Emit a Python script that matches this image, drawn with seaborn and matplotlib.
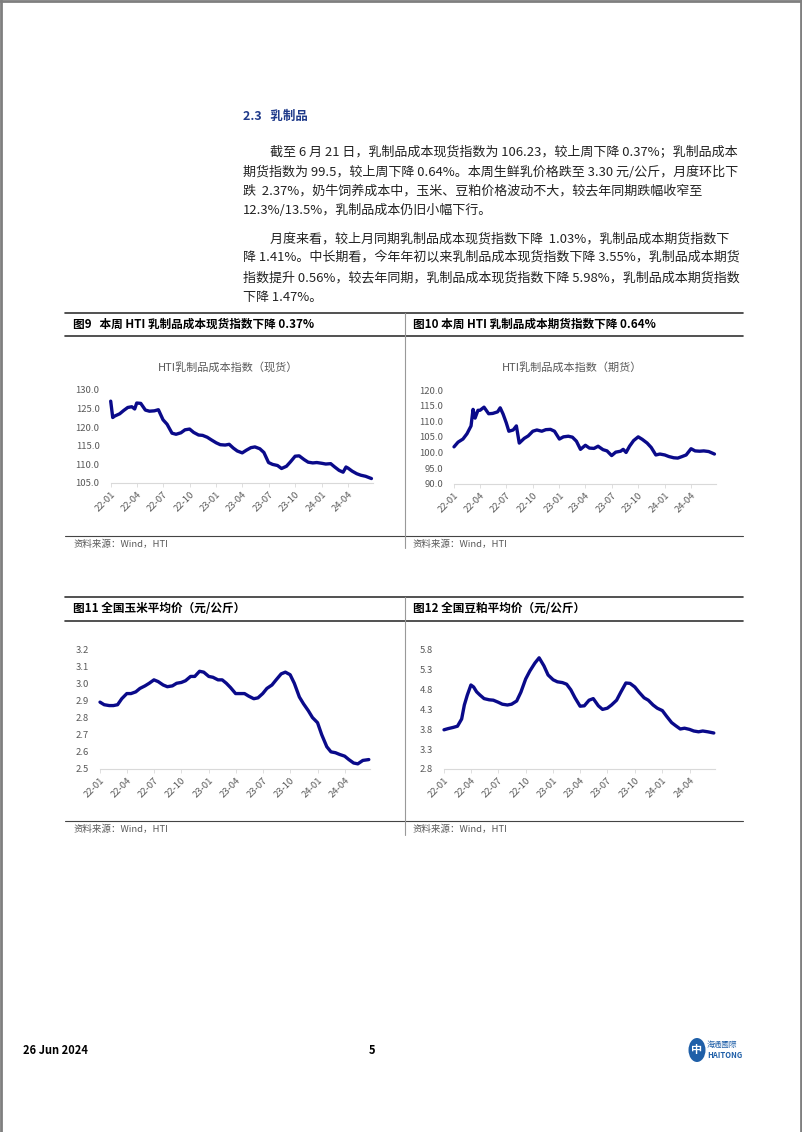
import matplotlib
matplotlib.use("Agg")
import matplotlib.pyplot as plt
import matplotlib.dates as mdates
from matplotlib.lines import Line2D
from matplotlib.patches import Circle
import numpy as np
import pandas as pd
import seaborn as sns

sns.set_theme(style="white")
plt.rcParams['font.family'] = ['Noto Sans CJK SC', 'DejaVu Sans']

W, H = 802, 1132

# ---- data ----
spot_dates = ["2022-01-01", "2022-01-08", "2022-01-15", "2022-02-01", "2022-02-15", "2022-03-01",
              "2022-03-15", "2022-03-25", "2022-04-01", "2022-04-15", "2022-05-01", "2022-05-15",
              "2022-06-01", "2022-06-15", "2022-07-01", "2022-07-15", "2022-08-01", "2022-08-15",
              "2022-09-01", "2022-09-15", "2022-10-01", "2022-10-15", "2022-11-01", "2022-11-15",
              "2022-12-01", "2022-12-15", "2023-01-01", "2023-01-15", "2023-02-01", "2023-02-15",
              "2023-03-01", "2023-03-15", "2023-04-01", "2023-04-15", "2023-05-01", "2023-05-15",
              "2023-06-01", "2023-06-15", "2023-07-01", "2023-07-15", "2023-08-01", "2023-08-15",
              "2023-09-01", "2023-09-15", "2023-10-01", "2023-10-15", "2023-11-01", "2023-11-15",
              "2023-12-01", "2023-12-15", "2024-01-01", "2024-01-15", "2024-02-01", "2024-02-15",
              "2024-03-01", "2024-03-15", "2024-03-25", "2024-04-01", "2024-04-15", "2024-05-01",
              "2024-05-15", "2024-06-01", "2024-06-21"]
spot_vals = [127.0, 122.6, 123.0, 123.6, 124.5, 125.3,
             125.5, 124.9, 126.5, 126.4, 124.6, 124.3,
             124.4, 124.7, 122.0, 120.8, 118.4, 118.1,
             118.5, 119.3, 119.5, 118.6, 117.9, 117.8,
             117.3, 116.6, 115.8, 115.3, 115.2, 115.4,
             114.4, 113.6, 113.1, 113.8, 114.5, 114.7,
             114.2, 113.2, 110.5, 110.0, 109.7, 108.9,
             109.5, 110.7, 112.2, 112.3, 111.3, 110.6,
             110.4, 110.5, 110.3, 110.1, 110.2, 109.3,
             108.4, 107.9, 109.3, 109.0, 108.2, 107.5,
             107.1, 106.8, 106.2]

fut_dates = ["2022-01-01", "2022-01-15", "2022-02-01", "2022-02-15", "2022-03-01", "2022-03-08",
             "2022-03-15", "2022-03-25", "2022-04-01", "2022-04-15", "2022-05-01", "2022-05-15",
             "2022-06-01", "2022-06-10", "2022-06-20", "2022-07-01", "2022-07-10", "2022-07-25",
             "2022-08-05", "2022-08-15", "2022-09-01", "2022-09-15", "2022-10-01", "2022-10-15",
             "2022-11-01", "2022-11-15", "2022-12-01", "2022-12-15", "2023-01-01", "2023-01-15",
             "2023-02-01", "2023-02-15", "2023-03-01", "2023-03-15", "2023-04-01", "2023-04-15",
             "2023-05-01", "2023-05-15", "2023-06-01", "2023-06-15", "2023-07-01", "2023-07-15",
             "2023-08-01", "2023-08-10", "2023-08-20", "2023-09-01", "2023-09-15", "2023-10-01",
             "2023-10-15", "2023-11-01", "2023-11-15", "2023-12-01", "2023-12-15", "2024-01-01",
             "2024-01-15", "2024-02-01", "2024-02-15", "2024-03-01", "2024-03-15", "2024-04-01",
             "2024-04-15", "2024-05-01", "2024-05-15", "2024-06-01", "2024-06-21"]
fut_vals = [101.8, 103.3, 104.3, 106.0, 108.5, 113.8,
            111.0, 113.5, 113.5, 114.5, 112.4, 112.5,
            113.0, 114.3, 112.3, 109.5, 106.8, 107.2,
            108.5, 103.0, 104.5, 105.3, 106.8, 107.2,
            106.8, 107.3, 107.4, 106.8, 104.3, 105.0,
            105.2, 104.9, 103.6, 101.0, 102.3, 101.4,
            101.3, 102.0, 100.9, 100.5, 99.0, 100.1,
            100.4, 101.0, 100.0, 102.0, 103.8, 105.0,
            104.2, 103.0, 101.6, 99.2, 99.5, 99.2,
            98.7, 98.3, 98.2, 98.7, 99.2, 101.2,
            100.5, 100.4, 100.5, 100.3, 99.5]

corn_dates = ["2022-01-01", "2022-01-15", "2022-02-01", "2022-02-15", "2022-03-01", "2022-03-15",
              "2022-04-01", "2022-04-15", "2022-05-01", "2022-05-15", "2022-06-01", "2022-06-15",
              "2022-07-01", "2022-07-15", "2022-08-01", "2022-08-15", "2022-09-01", "2022-09-15",
              "2022-10-01", "2022-10-15", "2022-11-01", "2022-11-15", "2022-12-01", "2022-12-15",
              "2023-01-01", "2023-01-15", "2023-02-01", "2023-02-15", "2023-03-01", "2023-03-15",
              "2023-04-01", "2023-04-15", "2023-05-01", "2023-05-15", "2023-06-01", "2023-06-15",
              "2023-07-01", "2023-07-15", "2023-08-01", "2023-08-15", "2023-09-01", "2023-09-15",
              "2023-10-01", "2023-10-15", "2023-11-01", "2023-11-15", "2023-12-01", "2023-12-15",
              "2024-01-01", "2024-01-15", "2024-02-01", "2024-02-15", "2024-03-01", "2024-03-15",
              "2024-04-01", "2024-04-15", "2024-05-01", "2024-05-15", "2024-06-01", "2024-06-21"]
corn_vals = [2.89, 2.875, 2.87, 2.87, 2.875, 2.91,
             2.94, 2.94, 2.95, 2.97, 2.985, 3.0,
             3.02, 3.01, 2.99, 2.98, 2.985, 3.0,
             3.005, 3.015, 3.04, 3.04, 3.07, 3.065,
             3.04, 3.035, 3.02, 3.02, 3.0, 2.975,
             2.94, 2.94, 2.94, 2.925, 2.91, 2.915,
             2.94, 2.97, 2.99, 3.02, 3.055, 3.065,
             3.05, 3.0, 2.92, 2.88, 2.84, 2.80,
             2.77, 2.70, 2.63, 2.60, 2.595, 2.585,
             2.575, 2.555, 2.535, 2.53, 2.55, 2.555]

soy_dates = ["2022-01-01", "2022-01-15", "2022-02-01", "2022-02-15", "2022-03-01", "2022-03-10",
             "2022-03-20", "2022-04-01", "2022-04-10", "2022-04-20", "2022-05-01", "2022-05-15",
             "2022-06-01", "2022-06-15", "2022-07-01", "2022-07-15", "2022-08-01", "2022-08-15",
             "2022-09-01", "2022-09-15", "2022-10-01", "2022-10-15", "2022-11-01", "2022-11-15",
             "2022-12-01", "2022-12-15", "2023-01-01", "2023-01-15", "2023-02-01", "2023-02-15",
             "2023-03-01", "2023-03-15", "2023-04-01", "2023-04-15", "2023-05-01", "2023-05-15",
             "2023-06-01", "2023-06-15", "2023-07-01", "2023-07-15", "2023-08-01", "2023-08-15",
             "2023-09-01", "2023-09-15", "2023-10-01", "2023-10-15", "2023-11-01", "2023-11-15",
             "2023-12-01", "2023-12-15", "2024-01-01", "2024-01-15", "2024-02-01", "2024-02-15",
             "2024-03-01", "2024-03-15", "2024-04-01", "2024-04-15", "2024-05-01", "2024-05-15",
             "2024-06-01", "2024-06-21"]
soy_vals = [3.78, 3.81, 3.84, 3.87, 4.05, 4.40,
            4.65, 4.90, 4.85, 4.73, 4.65, 4.56,
            4.53, 4.52, 4.47, 4.42, 4.40, 4.42,
            4.50, 4.72, 5.05, 5.25, 5.45, 5.58,
            5.38, 5.15, 5.03, 4.98, 4.96, 4.92,
            4.78, 4.58, 4.37, 4.38, 4.52, 4.56,
            4.38, 4.29, 4.32, 4.40, 4.52, 4.72,
            4.95, 4.94, 4.85, 4.72, 4.58, 4.52,
            4.40, 4.32, 4.26, 4.12, 3.96, 3.88,
            3.80, 3.82, 3.79, 3.75, 3.73, 3.75,
            3.73, 3.70]

quarter_ticks = ["2022-01-01", "2022-04-01", "2022-07-01", "2022-10-01", "2023-01-01",
                 "2023-04-01", "2023-07-01", "2023-10-01", "2024-01-01", "2024-04-01"]

heading = "2.3   乳制品"
para_lines = [
    "截至 6 月 21 日，乳制品成本现货指数为 106.23，较上周下降 0.37%；乳制品成本",
    "期货指数为 99.5，较上周下降 0.64%。本周生鲜乳价格跌至 3.30 元/公斤，月度环比下",
    "跌  2.37%，奶牛饲养成本中，玉米、豆粕价格波动不大，较去年同期跌幅收窄至",
    "12.3%/13.5%，乳制品成本仍旧小幅下行。",
    "月度来看，较上月同期乳制品成本现货指数下降  1.03%，乳制品成本期货指数下",
    "降 1.41%。中长期看，今年年初以来乳制品成本现货指数下降 3.55%，乳制品成本期货",
    "指数提升 0.56%，较去年同期，乳制品成本现货指数下降 5.98%，乳制品成本期货指数",
    "下降 1.47%。",
]
para_y = [152, 172, 191, 210, 239, 258, 278, 297]
para_x = [270, 243, 243, 243, 270, 243, 243, 243]

fig_titles = ["图9   本周 HTI 乳制品成本现货指数下降 0.37%", "图10 本周 HTI 乳制品成本期货指数下降 0.64%",
              "图11 全国玉米平均价（元/公斤）", "图12 全国豆粕平均价（元/公斤）"]
chart_titles = ["HTI乳制品成本指数（现货）", "HTI乳制品成本指数（期货）", None, None]
source = "资料来源：Wind，HTI"

LINE = "#0a0a8a"
GRAY = "#595959"

fig = plt.figure(figsize=(W / 100, H / 100), dpi=100)
fig.patch.set_facecolor("white")


def hline(x1, x2, y, color="#333333", lw=1.0):
    fig.add_artist(Line2D([x1 / W, x2 / W], [1 - y / H, 1 - y / H], transform=fig.transFigure,
                          color=color, lw=lw))


def vline(x, y1, y2, color="#999999", lw=0.8):
    fig.add_artist(Line2D([x / W, x / W], [1 - y1 / H, 1 - y2 / H], transform=fig.transFigure,
                          color=color, lw=lw))


def txt(x, y, s, **kw):
    fig.text(x / W, 1 - y / H, s, va="center", **kw)


# page border
hline(0, W, 1, color="#7f7f7f", lw=2)
vline(1, 0, H, color="#7f7f7f", lw=2)
vline(800.5, 0, H, color="#7f7f7f", lw=2)

# heading and paragraphs
txt(243, 116, heading, fontsize=9, fontweight="bold", color="#1f3a8a")
for s, x, y in zip(para_lines, para_x, para_y):
    txt(x, y, s, fontsize=9.4, color="#222222")

# table frames
for top, tline, sline, send in [(313, 336, 536, 548), (597, 621, 821, 835)]:
    hline(65, 743, top, lw=1.2)
    hline(65, 743, tline, lw=1.2)
    hline(65, 743, sline, color="#444444", lw=0.8)
    vline(405, top, send)
    txt(73, sline + 8, source, fontsize=6.8, color=GRAY)
    txt(413, sline + 8, source, fontsize=6.8, color=GRAY)

txt(73, 324.5, fig_titles[0], fontsize=8.4, fontweight="bold", color="black")
txt(413, 324.5, fig_titles[1], fontsize=8.4, fontweight="bold", color="black")
txt(73, 609, fig_titles[2], fontsize=8.4, fontweight="bold", color="black")
txt(413, 609, fig_titles[3], fontsize=8.4, fontweight="bold", color="black")

txt(228, 367, chart_titles[0], fontsize=8, color=GRAY, ha="center")
txt(572, 367, chart_titles[1], fontsize=8, color=GRAY, ha="center")

# charts: (dates, values, left, right, top, bottom, ylim, yticks)
panels = [
    (spot_dates, spot_vals, 110.7, 372.6, 390, 483, (105, 130), np.arange(105, 131, 5)),
    (fut_dates, fut_vals, 454, 715.6, 390, 483.7, (90, 120), np.arange(90, 121, 5)),
    (corn_dates, corn_vals, 100, 370, 649, 769, (2.5, 3.2), np.arange(2.5, 3.25, 0.1)),
    (soy_dates, soy_vals, 444, 715, 649, 769, (2.8, 5.8), np.arange(2.8, 5.85, 0.5)),
]
xmin = pd.Timestamp("2022-01-01")
xmax = pd.Timestamp("2024-06-25")

for dates, vals, l, r, t, b, ylim, yt in panels:
    ax = fig.add_axes([l / W, 1 - b / H, (r - l) / W, (b - t) / H])
    df = pd.DataFrame({"date": pd.to_datetime(dates), "value": vals})
    sns.lineplot(data=df, x="date", y="value", ax=ax, color=LINE, lw=2.4, clip_on=False)
    ax.set_xlim(xmin, xmax)
    ax.set_ylim(*ylim)
    ax.set_yticks(yt)
    ax.set_yticklabels([f"{v:.1f}" for v in yt])
    ax.set_xticks(pd.to_datetime(quarter_ticks))
    ax.xaxis.set_major_formatter(mdates.DateFormatter("%y-%m"))
    ax.set_xlabel("")
    ax.set_ylabel("")
    ax.set_facecolor("none")
    for side in ["top", "left", "right"]:
        ax.spines[side].set_visible(False)
    ax.spines["bottom"].set_color("#d9d9d9")
    ax.spines["bottom"].set_linewidth(0.8)
    ax.tick_params(axis="x", length=3, width=0.6, color="#d9d9d9", labelsize=6.8,
                   labelcolor=GRAY, pad=2, bottom=True)
    ax.tick_params(axis="y", length=0, labelsize=6.8, labelcolor=GRAY, pad=8)
    for lab in ax.get_xticklabels():
        lab.set_rotation(45)
        lab.set_ha("right")
        lab.set_rotation_mode("anchor")
    ax.grid(False)

# footer
txt(23, 1050, "26 Jun 2024", fontsize=8, fontweight="bold", color="black")
txt(372, 1050, "5", fontsize=8, fontweight="bold", color="black", ha="center")
fig.add_artist(Circle((697 / W, 1 - 1050 / H), 8.5 / W, transform=fig.transFigure,
                      facecolor="#1f5fa8", edgecolor="none"))
txt(697, 1050, "中", fontsize=8, fontweight="bold", color="white", ha="center")
txt(707, 1045, "海通國際", fontsize=5.5, color="#1f5fa8")
txt(707, 1055, "HAITONG", fontsize=5.5, fontweight="bold", color="#1f5fa8")

fig.savefig("out.png", dpi=100, facecolor="white")
